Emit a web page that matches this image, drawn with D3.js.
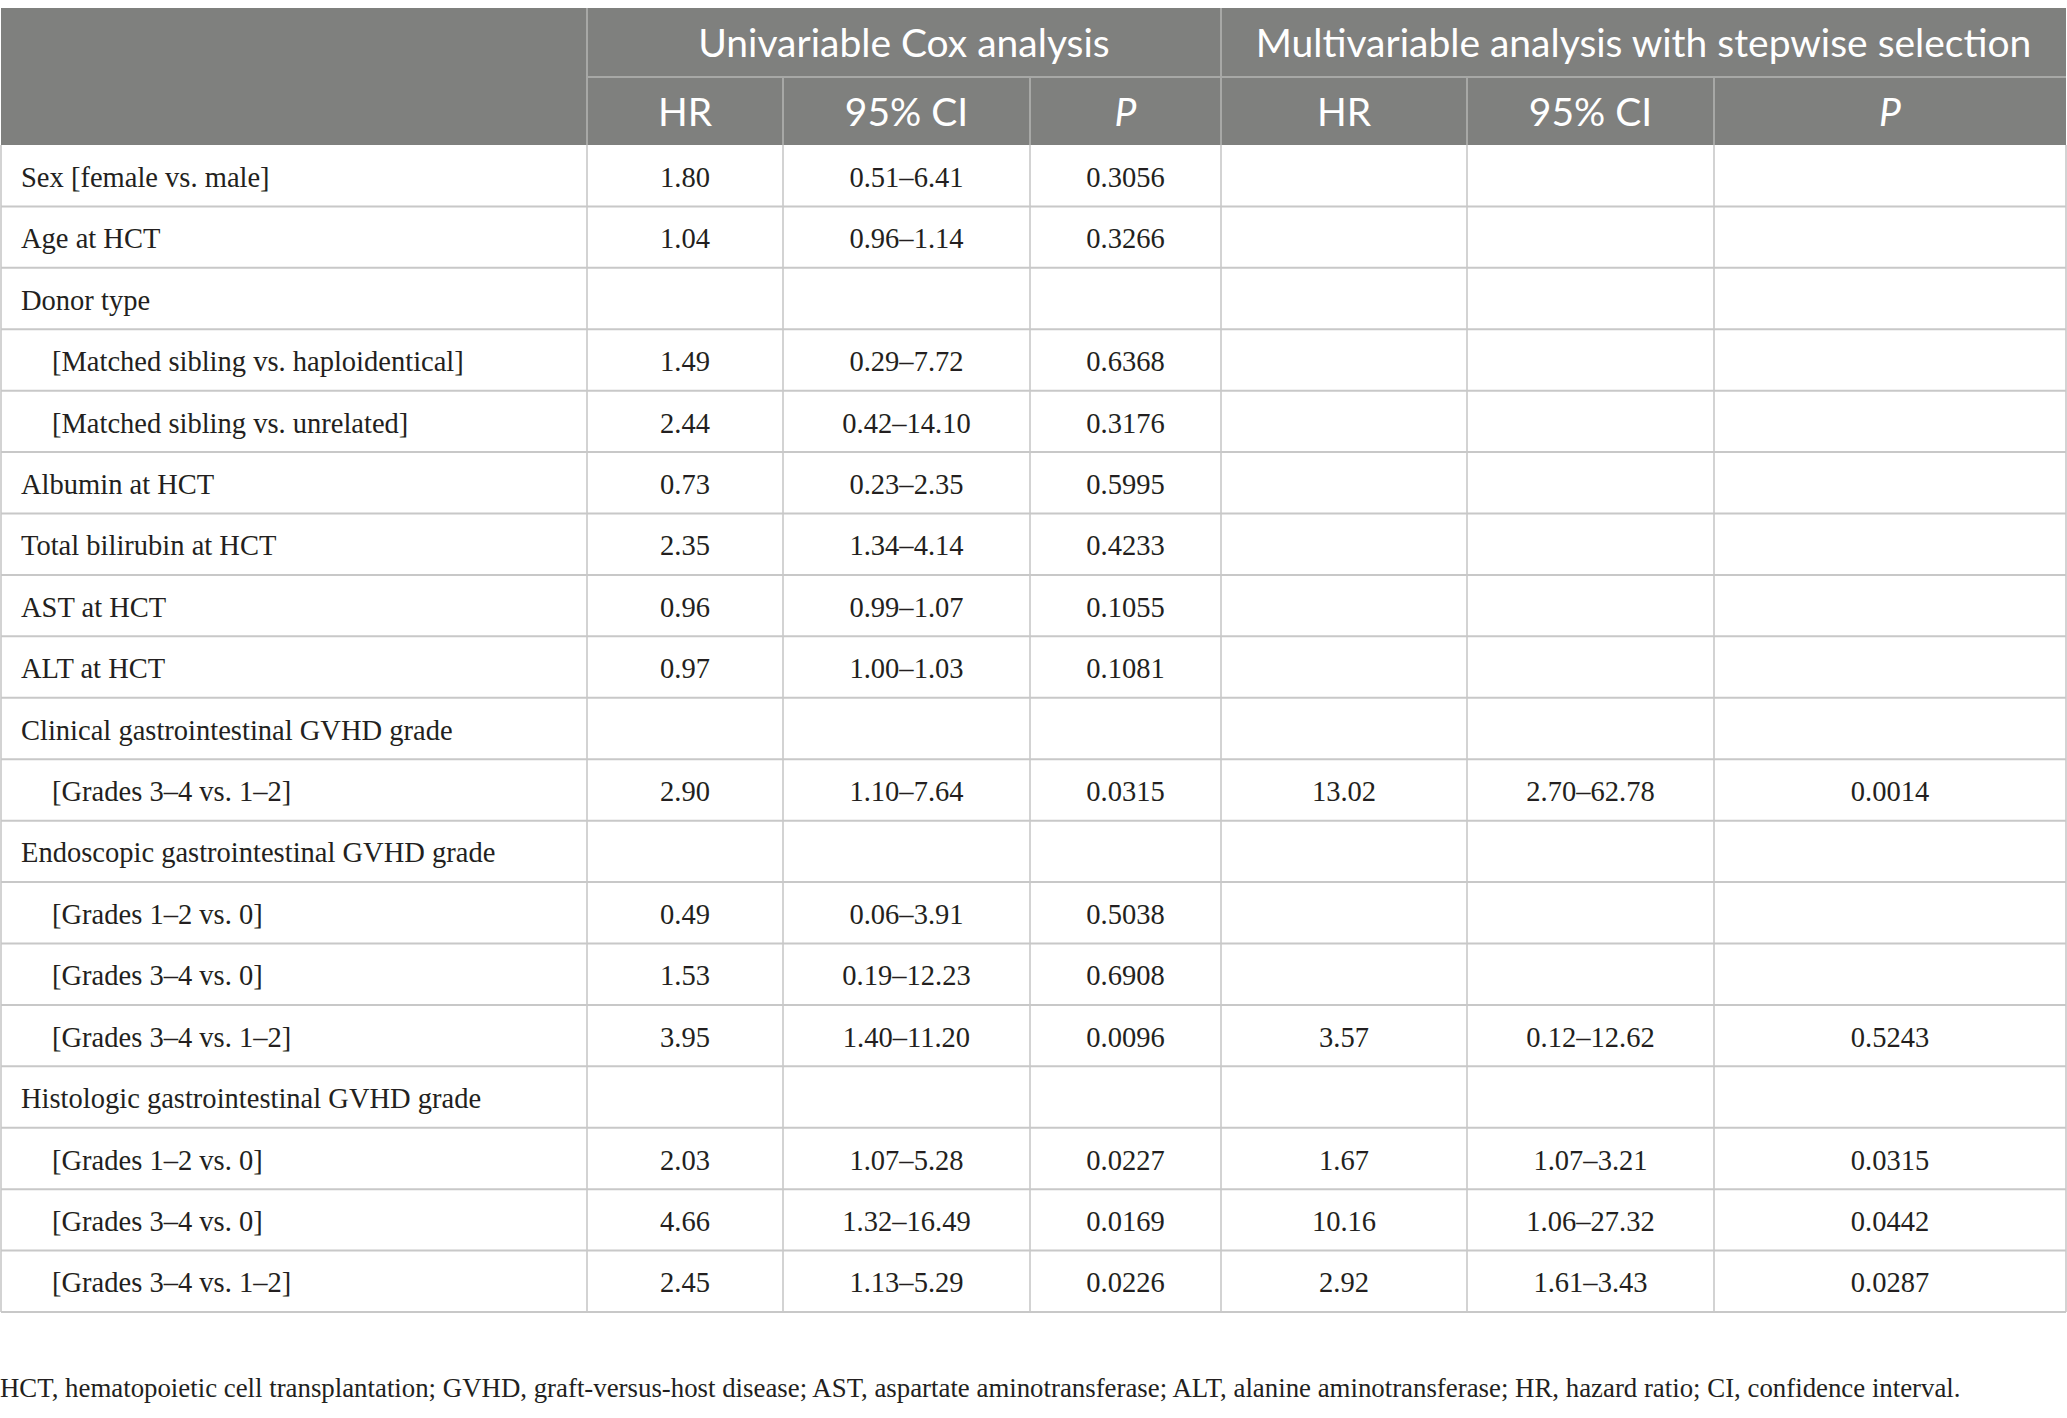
<!DOCTYPE html>
<html>
<head>
<meta charset="utf-8">
<script src="https://cdn.jsdelivr.net/npm/d3@7"></script>
<style>
  html, body { margin: 0; padding: 0; background: #fff; }
  svg { display: block; }
</style>
</head>
<body>
<svg id="tbl"></svg>
<script>
// table content
const groupHeaders = ['Univariable Cox analysis', 'Multivariable analysis with stepwise selection'];
const subHeaders = ['HR', '95% CI', 'P', 'HR', '95% CI', 'P'];

const rowLabels = [
  'Sex [female vs. male]',
  'Age at HCT',
  'Donor type',
  '[Matched sibling vs. haploidentical]',
  '[Matched sibling vs. unrelated]',
  'Albumin at HCT',
  'Total bilirubin at HCT',
  'AST at HCT',
  'ALT at HCT',
  'Clinical gastrointestinal GVHD grade',
  '[Grades 3–4 vs. 1–2]',
  'Endoscopic gastrointestinal GVHD grade',
  '[Grades 1–2 vs. 0]',
  '[Grades 3–4 vs. 0]',
  '[Grades 3–4 vs. 1–2]',
  'Histologic gastrointestinal GVHD grade',
  '[Grades 1–2 vs. 0]',
  '[Grades 3–4 vs. 0]',
  '[Grades 3–4 vs. 1–2]'
];
const rowIndent = [0,0,0,1,1,0,0,0,0,0,1,0,1,1,1,0,1,1,1];

const uniHR = ['1.80','1.04','','1.49','2.44','0.73','2.35','0.96','0.97','','2.90','','0.49','1.53','3.95','','2.03','4.66','2.45'];
const uniCI = ['0.51–6.41','0.96–1.14','','0.29–7.72','0.42–14.10','0.23–2.35','1.34–4.14','0.99–1.07','1.00–1.03','','1.10–7.64','','0.06–3.91','0.19–12.23','1.40–11.20','','1.07–5.28','1.32–16.49','1.13–5.29'];
const uniP  = ['0.3056','0.3266','','0.6368','0.3176','0.5995','0.4233','0.1055','0.1081','','0.0315','','0.5038','0.6908','0.0096','','0.0227','0.0169','0.0226'];
const mulHR = ['','','','','','','','','','','13.02','','','','3.57','','1.67','10.16','2.92'];
const mulCI = ['','','','','','','','','','','2.70–62.78','','','','0.12–12.62','','1.07–3.21','1.06–27.32','1.61–3.43'];
const mulP  = ['','','','','','','','','','','0.0014','','','','0.5243','','0.0315','0.0442','0.0287'];

const footnote = 'HCT, hematopoietic cell transplantation; GVHD, graft-versus-host disease; AST, aspartate aminotransferase; ALT, alanine aminotransferase; HR, hazard ratio; CI, confidence interval.';

const W = 2067, H = 1418;
const svg = d3.select('#tbl').attr('width', W).attr('height', H);
svg.append('rect').attr('width', W).attr('height', H).attr('fill', '#fff');

const serif = '"Liberation Serif", "Times New Roman", serif';
const sans = 'Lato, "Open Sans", sans-serif';

// size a font so a sample string spans a target width
function fitSize(str, family, target) {
  const t = svg.append('text').attr('font-family', family).attr('font-size', 100).text(str);
  const w = t.node().getComputedTextLength();
  t.remove();
  return 100 * target / w;
}
const bodySize = fitSize('[Matched sibling vs. haploidentical]', serif, 412);
const headSize = fitSize('Multivariable analysis with stepwise selection', sans, 776);
const noteSize = fitSize(footnote, serif, 1962);

// column edges
const colEdges = [1, 587, 783, 1030, 1221, 1467, 1714, 2066];
const yTop = 8, yHead1 = 77, yHead2 = 145, yBottom = 1312;

const y = d3.scaleBand().domain(d3.range(rowLabels.length)).range([yHead2, yBottom]).padding(0);

const headBg = '#7f807e', headLine = '#a7a8a6', bodyLine = '#c8c8c8', ink = '#231f20';

// header background
svg.append('rect').attr('x', colEdges[0]).attr('y', yTop)
  .attr('width', colEdges[7] - colEdges[0]).attr('height', yHead2 - yTop).attr('fill', headBg);

// header grid
const hg = svg.append('g').attr('stroke', headLine).attr('stroke-width', 2);
hg.append('line').attr('x1', colEdges[1]).attr('x2', colEdges[7]).attr('y1', yHead1).attr('y2', yHead1);
[1, 4].forEach(i => hg.append('line').attr('x1', colEdges[i]).attr('x2', colEdges[i]).attr('y1', yTop).attr('y2', yHead2));
[2, 3, 5, 6].forEach(i => hg.append('line').attr('x1', colEdges[i]).attr('x2', colEdges[i]).attr('y1', yHead1).attr('y2', yHead2));

// header texts
const spans = [[1, 4], [4, 7]];
svg.append('g').selectAll('text').data(groupHeaders).join('text')
  .attr('x', (d, i) => (colEdges[spans[i][0]] + colEdges[spans[i][1]]) / 2)
  .attr('y', (yTop + yHead1) / 2 + headSize * 0.36)
  .attr('text-anchor', 'middle').attr('font-family', sans).attr('font-size', headSize)
  .attr('fill', '#fff').text(d => d);

svg.append('g').selectAll('text').data(subHeaders).join('text')
  .attr('x', (d, i) => (colEdges[i + 1] + colEdges[i + 2]) / 2)
  .attr('y', (yHead1 + yHead2) / 2 + headSize * 0.38)
  .attr('text-anchor', 'middle').attr('font-family', sans).attr('font-size', headSize)
  .attr('font-style', d => d === 'P' ? 'italic' : 'normal')
  .attr('fill', '#fff').text(d => d);

// body grid
const bg = svg.append('g').attr('stroke', bodyLine);
bg.selectAll('line.h').data(d3.range(rowLabels.length)).join('line').attr('class', 'h')
  .attr('x1', colEdges[0]).attr('x2', colEdges[7])
  .attr('y1', i => y(i) + y.bandwidth()).attr('y2', i => y(i) + y.bandwidth())
  .attr('stroke-width', 2);
bg.selectAll('line.v').data(colEdges).join('line').attr('class', 'v')
  .attr('x1', d => d).attr('x2', d => d).attr('y1', yHead2).attr('y2', yBottom)
  .attr('stroke-width', 1.6);

// body text
const rows = svg.append('g').selectAll('g').data(rowLabels).join('g')
  .attr('transform', (d, i) => `translate(0,${y(i) + y.bandwidth() / 2 + bodySize * 0.39})`)
  .attr('font-family', serif).attr('font-size', bodySize).attr('fill', ink);

rows.append('text').attr('x', (d, i) => rowIndent[i] ? 52 : 21).text(d => d);

const cols = [uniHR, uniCI, uniP, mulHR, mulCI, mulP];
cols.forEach((arr, c) => {
  rows.append('text')
    .attr('x', (colEdges[c + 1] + colEdges[c + 2]) / 2)
    .attr('text-anchor', 'middle')
    .text((d, i) => arr[i]);
});

// footnote
svg.append('text').attr('x', 0).attr('y', 1397)
  .attr('font-family', serif).attr('font-size', noteSize).attr('fill', ink)
  .text(footnote);
</script>
</body>
</html>
